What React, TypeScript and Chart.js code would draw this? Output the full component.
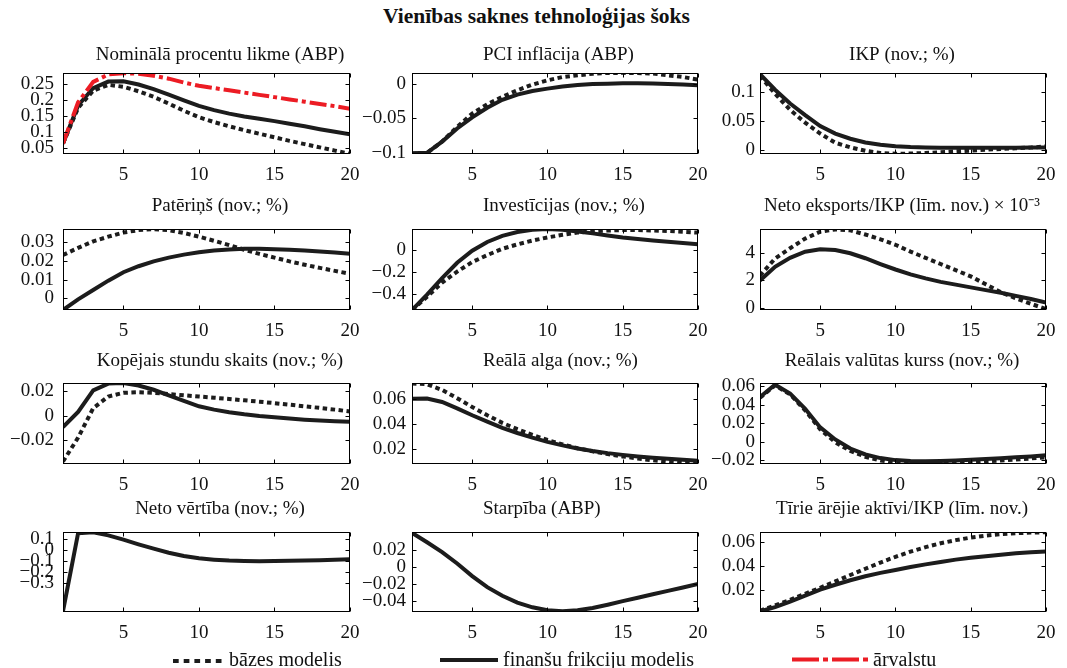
import React, { useEffect, useRef } from "react";
import { Chart, registerables } from "chart.js";

Chart.register(...registerables);

const FONT = '"Liberation Serif", "Times New Roman", Times, serif';
const BLACK = "#1c1c1c";
const RED = "#ec1c24";

// ---------- data ----------
const periods = [1, 2, 3, 4, 5, 6, 7, 8, 9, 10, 11, 12, 13, 14, 15, 16, 17, 18, 19, 20];
const xTicks = [5, 10, 15, 20];

const legendLabels = ["bāzes modelis", "finanšu frikciju modelis", "ārvalstu"];
const mainTitle = "Vienības saknes tehnoloģijas šoks";

const panelTitles = [
  "Nominālā procentu likme (ABP)",
  "PCI inflācija (ABP)",
  "IKP (nov.; %)",
  "Patēriņš (nov.; %)",
  "Investīcijas (nov.; %)",
  "Neto eksports/IKP (līm. nov.) × 10⁻³",
  "Kopējais stundu skaits (nov.; %)",
  "Reālā alga (nov.; %)",
  "Reālais valūtas kurss (nov.; %)",
  "Neto vērtība (nov.; %)",
  "Starpība (ABP)",
  "Tīrie ārējie aktīvi/IKP (līm. nov.)",
];

// 1 Nominal interest rate
const rateBase = [0.065, 0.175, 0.228, 0.246, 0.24, 0.226, 0.209, 0.188, 0.166, 0.146, 0.131, 0.118, 0.106, 0.095, 0.084, 0.073, 0.063, 0.053, 0.043, 0.033];
const rateFin = [0.065, 0.182, 0.236, 0.256, 0.257, 0.247, 0.233, 0.216, 0.198, 0.181, 0.168, 0.157, 0.148, 0.141, 0.134, 0.126, 0.118, 0.109, 0.101, 0.093];
const rateForeign = [0.065, 0.192, 0.255, 0.278, 0.282, 0.28, 0.274, 0.265, 0.253, 0.243, 0.236, 0.229, 0.222, 0.215, 0.208, 0.201, 0.194, 0.187, 0.18, 0.172];
const yTicksRate = [0.05, 0.1, 0.15, 0.2, 0.25];

// 2 CPI inflation
const inflBase = [-0.1015, -0.1005, -0.084, -0.0627, -0.0434, -0.03, -0.0193, -0.0097, -0.0015, 0.0047, 0.0095, 0.012, 0.0143, 0.0153, 0.0155, 0.0153, 0.0145, 0.012, 0.0095, 0.0057];
const inflFin = [-0.101, -0.1002, -0.084, -0.065, -0.049, -0.035, -0.0235, -0.016, -0.0107, -0.0073, -0.0042, -0.0022, -0.0008, -0.0001, 0.0003, 0.0003, 0.0, -0.0005, -0.0013, -0.0025];
const yTicksInfl = [-0.1, -0.05, 0];

// 3 GDP
const gdpBase = [0.128, 0.097, 0.069, 0.047, 0.028, 0.012, 0.004, -0.002, -0.0058, -0.007, -0.0068, -0.0058, -0.0044, -0.003, -0.0015, 0.0, 0.0012, 0.0025, 0.0037, 0.0055];
const gdpFin = [0.131, 0.104, 0.08, 0.06, 0.041, 0.028, 0.019, 0.0125, 0.0085, 0.0058, 0.0045, 0.0038, 0.0034, 0.0032, 0.0032, 0.0033, 0.0034, 0.0035, 0.0036, 0.0038];
const yTicksGdp = [0, 0.05, 0.1];

// 4 Consumption
const consBase = [0.0232, 0.027, 0.0305, 0.033, 0.0352, 0.0365, 0.037, 0.0365, 0.035, 0.033, 0.0308, 0.0285, 0.026, 0.0238, 0.0218, 0.0198, 0.018, 0.0163, 0.0147, 0.0132];
const consFin = [-0.0062, -0.0005, 0.0045, 0.0095, 0.014, 0.0172, 0.0198, 0.0218, 0.0234, 0.0247, 0.0256, 0.0262, 0.0265, 0.0265, 0.0263, 0.026, 0.0256, 0.0251, 0.0245, 0.0238];
const yTicksCons = [0, 0.01, 0.02, 0.03];

// 5 Investment
const invBase = [-0.55, -0.43, -0.3, -0.2, -0.113, -0.05, 0.008, 0.048, 0.083, 0.111, 0.135, 0.155, 0.167, 0.174, 0.178, 0.178, 0.175, 0.17, 0.163, 0.155];
const invFin = [-0.55, -0.41, -0.26, -0.12, -0.01, 0.07, 0.125, 0.16, 0.18, 0.188, 0.18, 0.166, 0.148, 0.128, 0.11, 0.096, 0.083, 0.072, 0.061, 0.05];
const yTicksInv = [-0.4, -0.2, 0];

// 6 Net exports / GDP (x 10^-3)
const nxBase = [2.35, 3.6, 4.35, 5.05, 5.55, 5.72, 5.65, 5.35, 5.0, 4.6, 4.1, 3.65, 3.2, 2.75, 2.3, 1.72, 1.15, 0.7, 0.3, -0.08];
const nxFin = [2.0, 3.0, 3.65, 4.1, 4.28, 4.22, 3.98, 3.62, 3.2, 2.8, 2.45, 2.15, 1.9, 1.7, 1.5, 1.3, 1.1, 0.88, 0.65, 0.4];
const yTicksNx = [0, 2, 4];

// 7 Total hours
const hoursBase = [-0.0375, -0.018, 0.006, 0.0155, 0.0185, 0.019, 0.0185, 0.0175, 0.0165, 0.0155, 0.0145, 0.0135, 0.0124, 0.0113, 0.0101, 0.0088, 0.0075, 0.0062, 0.0048, 0.0033];
const hoursFin = [-0.0095, 0.003, 0.0205, 0.026, 0.0265, 0.0245, 0.021, 0.0165, 0.012, 0.0075, 0.0048, 0.0027, 0.001, -0.0004, -0.0015, -0.0025, -0.0034, -0.0041, -0.0046, -0.005];
const yTicksHours = [-0.02, 0, 0.02];

// 8 Real wage
const wageBase = [0.0722, 0.0715, 0.067, 0.0605, 0.0535, 0.047, 0.041, 0.036, 0.0315, 0.0275, 0.024, 0.021, 0.0185, 0.0163, 0.0145, 0.0128, 0.0114, 0.0103, 0.0094, 0.0087];
const wageFin = [0.06, 0.0603, 0.0575, 0.0525, 0.047, 0.042, 0.037, 0.033, 0.0293, 0.026, 0.0232, 0.0208, 0.0188, 0.0171, 0.0157, 0.0145, 0.0135, 0.0126, 0.0118, 0.0111];
const yTicksWage = [0.02, 0.04, 0.06];

// 9 Real exchange rate
const rerBase = [0.0475, 0.061, 0.0512, 0.034, 0.0135, -0.0005, -0.0098, -0.0162, -0.0202, -0.0226, -0.0236, -0.0238, -0.0235, -0.023, -0.0222, -0.0213, -0.0203, -0.0192, -0.018, -0.0168];
const rerFin = [0.0483, 0.0617, 0.052, 0.0357, 0.0155, 0.0025, -0.0073, -0.0137, -0.0176, -0.0198, -0.0208, -0.021, -0.0208, -0.0203, -0.0195, -0.0187, -0.0178, -0.0168, -0.0158, -0.0145];
const yTicksRer = [-0.02, 0, 0.02, 0.04, 0.06];

// 10 Net worth
const nwFin = [-0.56, 0.158, 0.166, 0.138, 0.098, 0.055, 0.015, -0.022, -0.052, -0.074, -0.086, -0.095, -0.098, -0.1, -0.098, -0.097, -0.095, -0.092, -0.088, -0.083];
const yTicksNw = [-0.3, -0.2, -0.1, 0, 0.1];

// 11 Spread
const spreadFin = [0.04, 0.029, 0.0175, 0.0042, -0.0105, -0.0235, -0.0335, -0.0415, -0.047, -0.0505, -0.0515, -0.0505, -0.0478, -0.044, -0.0398, -0.0358, -0.0318, -0.0278, -0.0238, -0.0198];
const yTicksSpread = [-0.04, -0.02, 0, 0.02];

// 12 Net foreign assets / GDP
const nfaBase = [0.003, 0.0075, 0.012, 0.017, 0.022, 0.0272, 0.0325, 0.0377, 0.0428, 0.0475, 0.0518, 0.0555, 0.0587, 0.0613, 0.0634, 0.065, 0.0662, 0.067, 0.0675, 0.0678];
const nfaFin = [0.0025, 0.006, 0.0105, 0.0155, 0.0205, 0.0245, 0.0282, 0.0315, 0.0343, 0.0367, 0.0391, 0.0413, 0.0433, 0.0452, 0.0467, 0.048, 0.0493, 0.0504, 0.0513, 0.052];
const yTicksNfa = [0.02, 0.04, 0.06];

type Spec = {
  title: string;
  min: number;
  max: number;
  ticks: number[];
  base?: number[];
  fin: number[];
  foreign?: number[];
};

const panels: Spec[] = [
  { title: panelTitles[0], min: 0.0325, max: 0.2825, ticks: yTicksRate, base: rateBase, fin: rateFin, foreign: rateForeign },
  { title: panelTitles[1], min: -0.102, max: 0.0153, ticks: yTicksInfl, base: inflBase, fin: inflFin },
  { title: panelTitles[2], min: -0.0075, max: 0.133, ticks: yTicksGdp, base: gdpBase, fin: gdpFin },
  { title: panelTitles[3], min: -0.0062, max: 0.0371, ticks: yTicksCons, base: consBase, fin: consFin },
  { title: panelTitles[4], min: -0.55, max: 0.188, ticks: yTicksInv, base: invBase, fin: invFin },
  { title: panelTitles[5], min: -0.15, max: 5.75, ticks: yTicksNx, base: nxBase, fin: nxFin },
  { title: panelTitles[6], min: -0.0395, max: 0.0265, ticks: yTicksHours, base: hoursBase, fin: hoursFin },
  { title: panelTitles[7], min: 0.0085, max: 0.0725, ticks: yTicksWage, base: wageBase, fin: wageFin },
  { title: panelTitles[8], min: -0.024, max: 0.0635, ticks: yTicksRer, base: rerBase, fin: rerFin },
  { title: panelTitles[9], min: -0.569, max: 0.169, ticks: yTicksNw, fin: nwFin },
  { title: panelTitles[10], min: -0.0525, max: 0.041, ticks: yTicksSpread, fin: spreadFin },
  { title: panelTitles[11], min: 0.002, max: 0.068, ticks: yTicksNfa, base: nfaBase, fin: nfaFin },
];

// ---------- layout ----------
const COLS = [
  [63, 350],
  [412, 698],
  [760, 1046],
];
const ROWS = [
  [73, 154],
  [229, 310],
  [383, 464],
  [532, 612],
];
const TITLE_BASELINE = [59.5, 211, 365.5, 514];
const TITLE_POS: { x: number; align: CanvasTextAlign }[] = [
  { x: 220, align: "center" },
  { x: 483, align: "left" },
  { x: 902, align: "center" },
];
const LABEL_PAD = [9, 6, 5];
const ML = 75;
const MT = 45;
const MR = 30;
const MB = 35;

const fmt = (v: number) => (v < 0 ? "\u2212" + String(Math.abs(v)) : String(v));
const toPoints = (arr: number[]) => arr.map((y, i) => ({ x: periods[i], y }));

function Panel({ spec, index }: { spec: Spec; index: number }) {
  const ref = useRef<HTMLCanvasElement | null>(null);
  const col = index % 3;
  const row = Math.floor(index / 3);
  const [x0, x1] = COLS[col];
  const [y0, y1] = ROWS[row];
  const left = x0 - ML;
  const top = y0 - MT;
  const W = x1 - x0 + ML + MR;
  const H = y1 - y0 + MT + MB;

  useEffect(() => {
    if (!ref.current) return;
    const titleX = TITLE_POS[col].x - left;
    const titleAlign = TITLE_POS[col].align;
    const titleY = TITLE_BASELINE[row] - top;

    const framePlugin = {
      id: "frame" + index,
      afterDraw(chart: any) {
        const { ctx, chartArea: a, scales } = chart;
        ctx.save();
        ctx.strokeStyle = "#000";
        ctx.lineWidth = 1;
        const l = Math.round(a.left) + 0.5;
        const r = Math.round(a.right) - 0.5;
        const t = Math.round(a.top) + 0.5;
        const b = Math.round(a.bottom) - 0.5;
        ctx.strokeRect(l, t, r - l, b - t);
        const tl = 4;
        ctx.beginPath();
        scales.x.ticks.forEach((tk: any) => {
          const px = Math.round(scales.x.getPixelForValue(tk.value)) + 0.5;
          ctx.moveTo(px, b);
          ctx.lineTo(px, b - tl);
          ctx.moveTo(px, t);
          ctx.lineTo(px, t + tl);
        });
        scales.y.ticks.forEach((tk: any) => {
          const py = Math.round(scales.y.getPixelForValue(tk.value)) + 0.5;
          ctx.moveTo(l, py);
          ctx.lineTo(l + tl, py);
          ctx.moveTo(r, py);
          ctx.lineTo(r - tl, py);
        });
        ctx.stroke();
        ctx.fillStyle = "#111";
        ctx.font = "19px " + FONT;
        ctx.textAlign = titleAlign;
        ctx.textBaseline = "alphabetic";
        ctx.fillText(spec.title, titleX, titleY);
        ctx.restore();
      },
    };

    const datasets: any[] = [];
    if (spec.foreign) {
      datasets.push({
        label: legendLabels[2],
        data: toPoints(spec.foreign),
        borderColor: RED,
        borderWidth: 4,
        borderDash: [17, 4, 4, 4],
        pointRadius: 0,
        tension: 0,
      });
    }
    datasets.push({
      label: legendLabels[1],
      data: toPoints(spec.fin),
      borderColor: BLACK,
      borderWidth: 4,
      pointRadius: 0,
      tension: 0,
    });
    if (spec.base) {
      datasets.push({
        label: legendLabels[0],
        data: toPoints(spec.base),
        borderColor: BLACK,
        borderWidth: 4,
        borderDash: [4.5, 3.5],
        pointRadius: 0,
        tension: 0,
      });
    }

    const chart = new Chart(ref.current, {
      type: "line",
      data: { datasets },
      plugins: [framePlugin],
      options: {
        responsive: false,
        animation: false,
        devicePixelRatio: 1,
        layout: { padding: { top: MT, right: MR, left: 0, bottom: 0 } },
        plugins: {
          legend: { display: false },
          tooltip: { enabled: false },
          title: { display: false },
        },
        scales: {
          x: {
            type: "linear",
            min: 1,
            max: 20,
            bounds: "data",
            grid: { display: false, drawTicks: false },
            border: { display: false },
            afterBuildTicks: (s: any) => {
              s.ticks = xTicks.map((v) => ({ value: v }));
            },
            afterFit: (s: any) => {
              s.height = MB;
            },
            ticks: {
              font: { family: FONT, size: 19 },
              color: "#111",
              padding: 10,
              maxRotation: 0,
              autoSkip: false,
              callback: (v: any) => String(v),
            },
          },
          y: {
            type: "linear",
            min: spec.min,
            max: spec.max,
            bounds: "data",
            grid: { display: false, drawTicks: false },
            border: { display: false },
            afterBuildTicks: (s: any) => {
              s.ticks = spec.ticks.map((v) => ({ value: v }));
            },
            afterFit: (s: any) => {
              s.width = ML;
            },
            ticks: {
              font: { family: FONT, size: 19 },
              color: "#111",
              padding: LABEL_PAD[col],
              autoSkip: false,
              callback: (v: any) => fmt(Number(v)),
            },
          },
        },
      } as any,
    });
    return () => chart.destroy();
  }, []);

  return (
    <canvas
      ref={ref}
      width={W}
      height={H}
      style={{ position: "absolute", left, top, width: W, height: H }}
    />
  );
}

export default function App() {
  const legendText: React.CSSProperties = {
    position: "absolute",
    top: 648.2,
    fontFamily: FONT,
    fontSize: 20,
    lineHeight: "22px",
    color: "#111",
    whiteSpace: "nowrap",
  };
  return (
    <div
      style={{
        position: "absolute",
        left: 0,
        top: 0,
        width: 1067,
        height: 668,
        background: "#fff",
        overflow: "hidden",
        fontFamily: FONT,
      }}
    >
      <div
        style={{
          position: "absolute",
          left: 3,
          top: 3,
          width: 1067,
          textAlign: "center",
          fontWeight: "bold",
          fontSize: 21.5,
          lineHeight: "26px",
          color: "#111",
        }}
      >
        {mainTitle}
      </div>
      {panels.map((p, i) => (
        <Panel key={i} spec={p} index={i} />
      ))}
      <svg
        width={1067}
        height={668}
        style={{ position: "absolute", left: 0, top: 0, pointerEvents: "none" }}
      >
        <line x1={173} y1={661} x2={222} y2={661} stroke={BLACK} strokeWidth={4} strokeDasharray="5.7 5" />
        <line x1={440} y1={660} x2={498} y2={660} stroke={BLACK} strokeWidth={4} />
        <line x1={792} y1={659.5} x2={869} y2={659.5} stroke={RED} strokeWidth={4} strokeDasharray="27 4 5 4" />
      </svg>
      <span style={{ ...legendText, left: 229 }}>{legendLabels[0]}</span>
      <span style={{ ...legendText, left: 503 }}>{legendLabels[1]}</span>
      <span style={{ ...legendText, left: 873 }}>{legendLabels[2]}</span>
    </div>
  );
}
